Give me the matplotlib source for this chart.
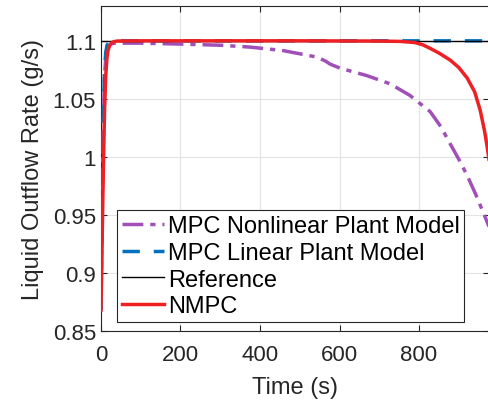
import numpy as np
import matplotlib.pyplot as plt

plt.rcParams['font.family'] = ['Liberation Sans', 'DejaVu Sans']

# reference setpoint
t_ref = [0, 976]
y_ref = [1.1, 1.1]

# MPC with linear plant model
t_lin = [0, 3, 6, 9, 12, 15, 20, 25, 30, 40, 60, 976]
y_lin = [0.868, 0.97, 1.04, 1.075, 1.09, 1.096, 1.099, 1.0998, 1.1, 1.1, 1.1, 1.1]

# MPC with nonlinear plant model
t_nl = [0, 3, 6, 9, 12, 15, 20, 25, 30, 60, 100, 200, 300, 375, 458, 543, 565,
        576, 601, 669, 727, 777, 828, 855, 878, 900, 921, 941, 961, 976]
y_nl = [0.868, 0.96, 1.03, 1.07, 1.085, 1.092, 1.096, 1.097, 1.0978, 1.098,
        1.098, 1.0972, 1.0962, 1.0946, 1.0916, 1.086, 1.0825, 1.080, 1.0765,
        1.070, 1.063, 1.053, 1.039, 1.026, 1.0115, 0.998, 0.984, 0.969, 0.9526,
        0.94]

# NMPC
t_nmpc = [0, 3, 6, 9, 12, 15, 18, 22, 26, 30, 40, 100, 300, 500, 700, 753,
          790, 810, 828, 850, 878, 900, 921, 940, 954, 965, 971, 976]
y_nmpc = [0.868, 0.93, 0.99, 1.04, 1.07, 1.085, 1.092, 1.096, 1.098, 1.099,
          1.0998, 1.1, 1.1, 1.1, 1.0998, 1.0995, 1.0985, 1.0965, 1.0935,
          1.0895, 1.0835, 1.077, 1.068, 1.056, 1.040, 1.022, 1.0095, 0.998]

fig = plt.figure(figsize=(4.89, 4.02), dpi=100)
ax = fig.add_axes([0.2065, 0.174, 0.7935, 0.8086])

ax.plot(t_nl, y_nl, color='#A050B8', lw=2.5, dashes=(6, 2, 1.5, 2),
        label='MPC Nonlinear Plant Model', zorder=3)
ax.plot(t_lin, y_lin, color='#0072BD', lw=2.5, dashes=(5, 4),
        label='MPC Linear Plant Model', zorder=3)
ax.plot(t_ref, y_ref, color='black', lw=1, label='Reference', zorder=4)
ax.plot(t_nmpc, y_nmpc, color='#EE2024', lw=2.5, label='NMPC', zorder=5)

ax.set_xlim(0, 976)
ax.set_ylim(0.85, 1.13)
ax.set_xticks([0, 200, 400, 600, 800])
ax.set_yticks([0.85, 0.9, 0.95, 1, 1.05, 1.1])
ax.set_yticklabels(['0.85', '0.9', '0.95', '1', '1.05', '1.1'])
ax.grid(True, color='#E3E3E3', lw=0.8)
ax.set_axisbelow(True)
ax.tick_params(direction='in', length=4, width=0.8, labelsize=16,
               colors='#262626', top=True, right=True)
ax.tick_params(axis='x', pad=9)
for s in ax.spines.values():
    s.set_color('#262626')
    s.set_linewidth(0.8)

ax.set_xlabel('Time (s)', fontsize=17, color='#262626', labelpad=8)
ax.set_ylabel('Liquid Outflow Rate (g/s)', fontsize=17, color='#262626', labelpad=6)

leg = ax.legend(loc='lower left', bbox_to_anchor=(0.041, 0.028), fontsize=17,
                frameon=True, fancybox=False, framealpha=1, edgecolor='#262626',
                handlelength=1.8, handletextpad=0.15, borderpad=0.2,
                labelspacing=0.2, borderaxespad=0)
leg.get_frame().set_linewidth(0.8)

fig.savefig('out.png', dpi=100)
